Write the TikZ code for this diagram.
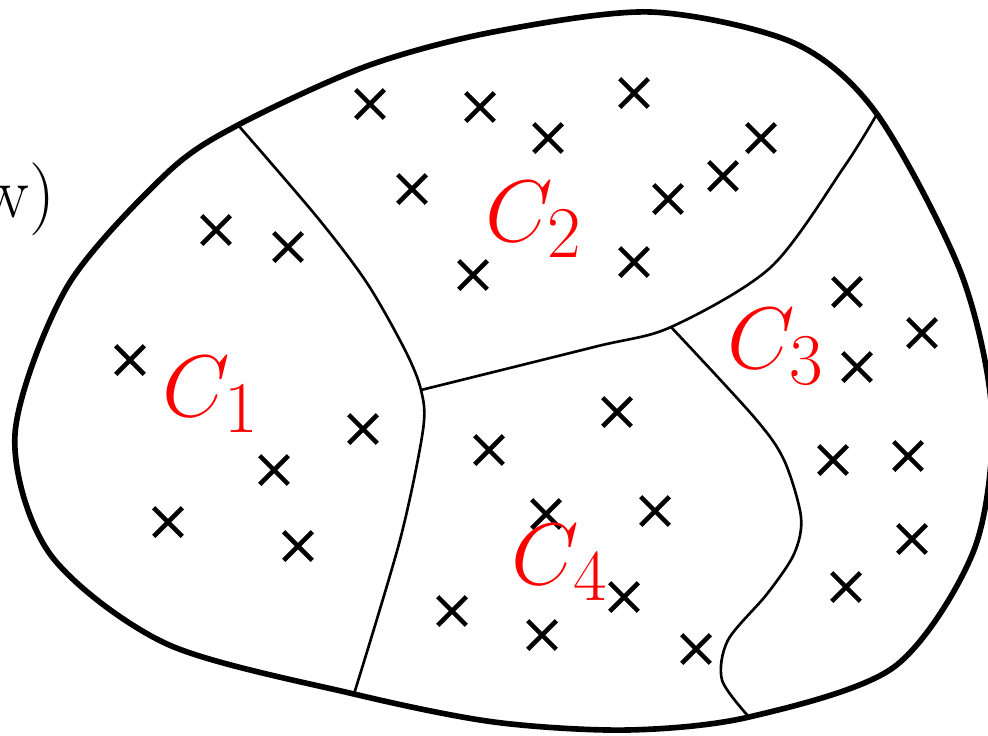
\documentclass[tikz,border=0pt]{standalone}
\usepackage{amsmath}
\usepackage{tikz}
\usetikzlibrary{shapes.misc}

\begin{document}
\begin{tikzpicture}[
    x=0.01cm, y=-0.01cm,
    pt/.style={draw, cross out, line width=1.3pt, minimum size=0.24cm, inner sep=0pt},
    lab/.style={text=red, font=\Huge, anchor=base, inner sep=0pt},
    rim/.style={line width=1.6pt},
    cut/.style={line width=0.75pt}
]

\clip (0,0) rectangle (988,735);

% junctions of the cuts with the rim and with each other
\coordinate (j12)  at (238,125);
\coordinate (j23)  at (877,114);
\coordinate (j14)  at (354,694);
\coordinate (j34)  at (749,717);
\coordinate (j124) at (421,390);
\coordinate (j234) at (671,327);

% rim
\draw[rim] plot[smooth cycle] coordinates {
    (15,434) (67,287) (167,173) (j12) (367,66) (493,32) (651,12) (794,43)
    (j23) (961,273) (992,415) (974,550) (894,667) (j34) (627,730) (494,722)
    (j14) (167,644) (50,554)};

% cuts
\draw[cut] plot[smooth] coordinates {
    (j12) (317,217) (367,283) (405,350) (j124) (423,430)
    (400,540) (j14)};
\draw[cut] plot[smooth] coordinates {
    (j124) (594,347) (j234) (771,267) (844,167) (j23)};
\draw[cut] plot[smooth] coordinates {
    (j234) (754,417) (784,460) (801,517) (794,554) (767,594)
    (728,640) (722,680) (j34)};

% data points
\foreach \x/\y [count=\i] in {
    370/104, 480/107, 634/93, 548/138, 761/138, 723/176, 668/199, 412/189,
    473/275, 634/262,
    216/230, 288/247, 130/360, 363/429, 274/470, 168/522, 298/546,
    847/292, 922/333, 857/367, 833/460, 908/456, 912/539, 846/587,
    617/412, 489/450, 546/514, 655/511, 624/597, 452/611, 542/635, 696/649}
    \node[pt] (p\i) at (\x,\y) {};

% cluster labels
\node[lab] (c1) at (211,416) {$C_1$};
\node[lab] (c2) at (534,241) {$C_2$};
\node[lab] (c3) at (776,368) {$C_3$};
\node[lab] (c4) at (560,584) {$C_4$};

\node[font=\huge, anchor=base east, inner sep=0pt] (lik) at (56,217) {w)};

\end{tikzpicture}
\end{document}
